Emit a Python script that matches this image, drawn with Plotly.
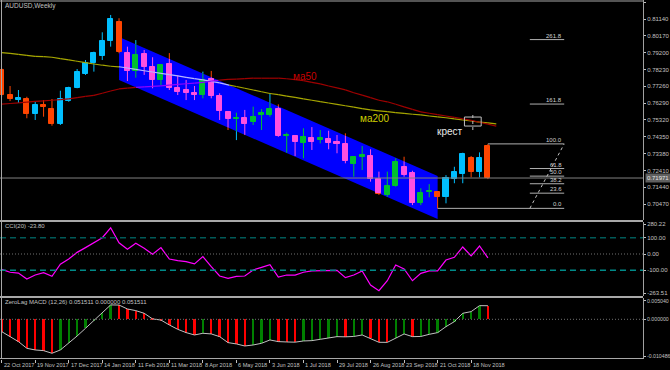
import plotly.graph_objects as go

# ---------------- data ----------------
date_labels = ["22 Oct 2017", "19 Nov 2017", "17 Dec 2017", "14 Jan 2018", "11 Feb 2018",
               "11 Mar 2018", "8 Apr 2018", "6 May 2018", "3 Jun 2018", "1 Jul 2018",
               "29 Jul 2018", "26 Aug 2018", "23 Sep 2018", "21 Oct 2018", "18 Nov 2018"]
date_label_index = [0, 4, 8, 12, 16, 20, 24, 28, 32, 36, 40, 44, 48, 52, 56]

open_ = [0.7820, 0.7676, 0.7647, 0.7653, 0.7567, 0.7618, 0.7595, 0.7507, 0.7643, 0.7718,
         0.7797, 0.7859, 0.7903, 0.7988, 0.8099, 0.7917, 0.7815, 0.7911, 0.7839, 0.7763,
         0.7853, 0.7715, 0.7705, 0.7689, 0.7676, 0.7768, 0.7670, 0.7576, 0.7538, 0.7542,
         0.7519, 0.7559, 0.7561, 0.7594, 0.7440, 0.7440, 0.7397, 0.7430, 0.7416, 0.7420,
         0.7403, 0.7393, 0.7276, 0.7317, 0.7324, 0.7191, 0.7099, 0.7153, 0.7262, 0.7224,
         0.7055, 0.7115, 0.7115, 0.7089, 0.7191, 0.7219, 0.7314, 0.7230, 0.7382]
high = [0.7832, 0.7728, 0.7705, 0.7666, 0.7637, 0.7647, 0.7653, 0.7701, 0.7724, 0.7826,
        0.7878, 0.7926, 0.8038, 0.8138, 0.8119, 0.7955, 0.7993, 0.7936, 0.7894, 0.7855,
        0.7918, 0.7791, 0.7763, 0.7728, 0.7811, 0.7815, 0.7686, 0.7580, 0.7574, 0.7590,
        0.7609, 0.7595, 0.7686, 0.7622, 0.7459, 0.7445, 0.7484, 0.7491, 0.7474, 0.7470,
        0.7445, 0.7455, 0.7320, 0.7382, 0.7363, 0.7234, 0.7234, 0.7311, 0.7320, 0.7239,
        0.7138, 0.7162, 0.7118, 0.7214, 0.7262, 0.7343, 0.7324, 0.7345, 0.7394]
low = [0.7667, 0.7641, 0.7630, 0.7542, 0.7532, 0.7551, 0.7499, 0.7503, 0.7637, 0.7715,
       0.7792, 0.7811, 0.7878, 0.7955, 0.7917, 0.7757, 0.7776, 0.7792, 0.7715, 0.7734,
       0.7705, 0.7676, 0.7647, 0.7647, 0.7657, 0.7657, 0.7532, 0.7474, 0.7416, 0.7445,
       0.7503, 0.7474, 0.7551, 0.7435, 0.7343, 0.7324, 0.7311, 0.7359, 0.7397, 0.7363,
       0.7340, 0.7282, 0.7205, 0.7243, 0.7176, 0.7099, 0.7089, 0.7147, 0.7205, 0.7041,
       0.7041, 0.7086, 0.7022, 0.7051, 0.7167, 0.7167, 0.7201, 0.7201, 0.7191]
close = [0.7676, 0.7651, 0.7657, 0.7567, 0.7617, 0.7609, 0.7507, 0.7651, 0.7716, 0.7811,
         0.7863, 0.7920, 0.7988, 0.8113, 0.7923, 0.7815, 0.7907, 0.7839, 0.7763, 0.7849,
         0.7715, 0.7695, 0.7686, 0.7676, 0.7763, 0.7672, 0.7584, 0.7538, 0.7542, 0.7509,
         0.7551, 0.7571, 0.7597, 0.7441, 0.7445, 0.7407, 0.7432, 0.7407, 0.7426, 0.7397,
         0.7395, 0.7295, 0.7317, 0.7328, 0.7191, 0.7103, 0.7151, 0.7291, 0.7214, 0.7051,
         0.7112, 0.7122, 0.7089, 0.7199, 0.7230, 0.7334, 0.7230, 0.7314, 0.71971]

ma50 = [0.7623, 0.7627, 0.7631, 0.7635, 0.7639, 0.7642, 0.7646, 0.7650, 0.7654, 0.7661,
        0.7668, 0.7674, 0.7686, 0.7699, 0.7711, 0.7716, 0.7720, 0.7723, 0.7726, 0.7729,
        0.7733, 0.7737, 0.7741, 0.7745, 0.7749, 0.7756, 0.7762, 0.7766, 0.7768, 0.7771,
        0.7773, 0.7773, 0.7773, 0.7773, 0.7770, 0.7765, 0.7759, 0.7749, 0.7740, 0.7728,
        0.7717, 0.7706, 0.7689, 0.7675, 0.7661, 0.7646, 0.7637, 0.7623, 0.7608, 0.7593,
        0.7579, 0.7571, 0.7563, 0.7555, 0.7547, 0.7539, 0.7530, 0.7519, 0.7508, 0.7497]
ma200 = [0.7921, 0.7916, 0.7910, 0.7905, 0.7899, 0.7897, 0.7894, 0.7886, 0.7879, 0.7871,
         0.7863, 0.7855, 0.7848, 0.7842, 0.7839, 0.7832, 0.7824, 0.7816, 0.7809, 0.7801,
         0.7794, 0.7786, 0.7778, 0.7771, 0.7763, 0.7755, 0.7746, 0.7735, 0.7725, 0.7715,
         0.7705, 0.7695, 0.7685, 0.7678, 0.7670, 0.7662, 0.7654, 0.7646, 0.7638, 0.7630,
         0.7622, 0.7614, 0.7606, 0.7598, 0.7590, 0.7584, 0.7580, 0.7575, 0.7570, 0.7565,
         0.7561, 0.7555, 0.7550, 0.7545, 0.7538, 0.7532, 0.7526, 0.7520, 0.7515, 0.7509]

cci = [-94, -112, -117, -153, -129, -115, -137, -63, -31, 10,
       39, 67, 100, 161, 69, 29, 66, 35, -2, 39,
       -31, -41, -47, -61, -16, -78, -135, -149, -137, -135,
       -98, -82, -65, -141, -129, -129, -112, -104, -102, -102,
       -100, -145, -129, -104, -190, -225, -164, -67, -92, -164,
       -119, -104, -104, -37, -20, 43, -12, 49, -23.8]

macd = [-0.00334, -0.00470, -0.00605, -0.00786, -0.00831, -0.00849, -0.00921, -0.00831, -0.00650, -0.00452,
        -0.00244, -0.00030, 0.00163, 0.00390, 0.00386, 0.00280, 0.00235, 0.00163, 0.00010, -0.00020,
        -0.00154, -0.00271, -0.00361, -0.00425, -0.00379, -0.00397, -0.00470, -0.00632, -0.00668, -0.00723,
        -0.00696, -0.00650, -0.00560, -0.00605, -0.00614, -0.00620, -0.00587, -0.00578, -0.00542, -0.00515,
        -0.00470, -0.00475, -0.00465, -0.00425, -0.00515, -0.00623, -0.00625, -0.00515, -0.00397, -0.00470,
        -0.00465, -0.00407, -0.00361, -0.00199, -0.00063, 0.00163, 0.00208, 0.00370, 0.00368]

channel_x = [14, 52]
channel_top = [0.8011, 0.7209]
channel_bottom = [0.7763, 0.6961]

fib_low = 0.7022
fib_high = 0.7394
fib_levels = [0.0, 23.6, 38.2, 50.0, 61.8, 100.0, 161.8, 261.8]
fib_labels = ["0.0", "23.6", "38.2", "50.0", "61.8", "100.0", "161.8", "261.8"]

cross_box_x = [55.2, 57.2]
cross_box_y = [0.7497, 0.7549]

current_price = 0.71971

price_ticks = [0.8211, 0.8114, 0.8017, 0.7920, 0.7823, 0.7726, 0.7629, 0.7532, 0.7435,
               0.7338, 0.7241, 0.7144, 0.7047]
price_tick_text = ["0.82110", "0.81140", "0.80170", "0.79200", "0.78230", "0.77260", "0.76290",
                   "0.75320", "0.74350", "0.73380", "0.72410", "0.71440", "0.70470"]
cci_tick_vals = [182, 100, 0, -100, -241]
cci_tick_text = ["280.22", "100.00", "0.00", "-100.00", "-263.51"]
macd_tick_vals = [0.00504, 0.0, -0.00995]
macd_tick_text = ["0.005040", "0.000000", "-0.010486"]

# ---------------- styles ----------------
BG = "#000000"
AX = "#c0c0c0"
FONT = "Liberation Sans"
BULL, BEAR = "#00bfff", "#ff4500"
BULL_IN, BEAR_IN = "#00c030", "#ff50e0"
MA50_C, MA50_IN = "#a00000", "#9000ff"
MA200_C, MA200_IN = "#a8a800", "#b8b8ff"

n = len(close)
idx = list(range(n))


def ch_top(x):
    return channel_top[0] + (channel_top[1] - channel_top[0]) * (x - channel_x[0]) / (channel_x[1] - channel_x[0])


def ch_bot(x):
    return channel_bottom[0] + (channel_bottom[1] - channel_bottom[0]) * (x - channel_x[0]) / (channel_x[1] - channel_x[0])


def inside(x, y):
    return channel_x[0] < x < channel_x[1] and ch_bot(x) < y < ch_top(x)


def split_vertical(x, lo, hi):
    cuts = [lo, hi]
    if channel_x[0] < x < channel_x[1]:
        for c in (ch_bot(x), ch_top(x)):
            if lo < c < hi:
                cuts.append(c)
    cuts.sort()
    out = []
    for a, b in zip(cuts[:-1], cuts[1:]):
        out.append((a, b, inside(x, (a + b) / 2)))
    return out


def clip_line(xs, ys):
    ix, iy, ox, oy = [], [], [], []
    for k in range(len(xs) - 1):
        x0, y0, x1, y1 = xs[k], ys[k], xs[k + 1], ys[k + 1]
        ts = [0.0, 1.0]
        for xe in channel_x:
            if (x0 - xe) * (x1 - xe) < 0:
                ts.append((xe - x0) / (x1 - x0))
        for f in (ch_top, ch_bot):
            d0, d1 = y0 - f(x0), y1 - f(x1)
            if d0 * d1 < 0:
                ts.append(d0 / (d0 - d1))
        ts.sort()
        for a, b in zip(ts[:-1], ts[1:]):
            xa, ya = x0 + (x1 - x0) * a, y0 + (y1 - y0) * a
            xb, yb = x0 + (x1 - x0) * b, y0 + (y1 - y0) * b
            m = (a + b) / 2
            if inside(x0 + (x1 - x0) * m, y0 + (y1 - y0) * m):
                ix += [xa, xb, None]; iy += [ya, yb, None]
            else:
                ox += [xa, xb, None]; oy += [ya, yb, None]
    return ix, iy, ox, oy


fig = go.Figure()

# candles
wicks = {BULL: ([], []), BEAR: ([], []), BULL_IN: ([], []), BEAR_IN: ([], [])}
bx, bbase, bh, bcol = [], [], [], []
MIN_H = 0.0003
for i in idx:
    bull = close[i] >= open_[i]
    c_out = BULL if bull else BEAR
    c_in = BULL_IN if bull else BEAR_IN
    for a, b, ins in split_vertical(i, low[i], high[i]):
        col = c_in if ins else c_out
        wicks[col][0].extend([i, i, None])
        wicks[col][1].extend([a, b, None])
    lo, hi = min(open_[i], close[i]), max(open_[i], close[i])
    if hi - lo < MIN_H:
        mid = (hi + lo) / 2
        lo, hi = mid - MIN_H / 2, mid + MIN_H / 2
    for a, b, ins in split_vertical(i, lo, hi):
        bx.append(i); bbase.append(a); bh.append(b - a)
        bcol.append(c_in if ins else c_out)

fig.add_trace(go.Bar(x=bx, y=bh, base=bbase, width=0.6,
                     marker=dict(color=bcol, line=dict(color=bcol, width=1)),
                     hoverinfo="skip", xaxis="x", yaxis="y"))
for col, (wx, wy) in wicks.items():
    fig.add_trace(go.Scatter(x=wx, y=wy, mode="lines", line=dict(color=col, width=1),
                             hoverinfo="skip", xaxis="x", yaxis="y"))

# moving averages
ma_x = list(range(len(ma50)))
for vals, c_out, c_in in ((ma200, MA200_C, MA200_IN), (ma50, MA50_C, MA50_IN)):
    ix, iy, ox, oy = clip_line(ma_x, vals)
    fig.add_trace(go.Scatter(x=ox, y=oy, mode="lines", line=dict(color=c_out, width=1.2),
                             hoverinfo="skip", xaxis="x", yaxis="y"))
    fig.add_trace(go.Scatter(x=ix, y=iy, mode="lines", line=dict(color=c_in, width=1.2),
                             hoverinfo="skip", xaxis="x", yaxis="y"))

# fibonacci
rng = fib_high - fib_low
FIB_X0, FIB_X1 = 63.0, 67.1
for lvl, lab in zip(fib_levels, fib_labels):
    yv = fib_low + rng * lvl / 100.0
    x0 = FIB_X0
    if lvl == 0.0:
        x0 = 52
    elif lvl == 100.0:
        x0 = 58
    fig.add_trace(go.Scatter(x=[x0, FIB_X1], y=[yv, yv], mode="lines",
                             line=dict(color="#b0b0b0", width=1), hoverinfo="skip",
                             xaxis="x", yaxis="y"))
    fig.add_annotation(x=FIB_X1, y=yv, xref="x", yref="y", text=lab, showarrow=False,
                       xanchor="right", yanchor="bottom", yshift=-1,
                       font=dict(family=FONT, size=6, color="#d0d0d0"))
fig.add_trace(go.Scatter(x=[FIB_X0, FIB_X1], y=[fib_low, fib_high], mode="lines",
                         line=dict(color="#c0c0c0", width=1, dash="dot"), hoverinfo="skip",
                         xaxis="x", yaxis="y"))

# cross box
fig.add_trace(go.Scatter(
    x=[cross_box_x[0], cross_box_x[1], cross_box_x[1], cross_box_x[0], cross_box_x[0]],
    y=[cross_box_y[0], cross_box_y[0], cross_box_y[1], cross_box_y[1], cross_box_y[0]],
    mode="lines", line=dict(color="#c0c0c0", width=1), hoverinfo="skip", xaxis="x", yaxis="y"))
cx = (cross_box_x[0] + cross_box_x[1]) / 2
fig.add_trace(go.Scatter(x=[cx, cx], y=[cross_box_y[0] - 0.0023, cross_box_y[1] + 0.0023],
                         mode="lines", line=dict(color="#c0c0c0", width=1, dash="dot"),
                         hoverinfo="skip", xaxis="x", yaxis="y"))

# CCI
fig.add_trace(go.Scatter(x=idx, y=cci, mode="lines", line=dict(color="#ff00ff", width=1.2),
                         hoverinfo="skip", xaxis="x2", yaxis="y2"))

# MACD
mcol = ["#ff0000" if (i == 0 or macd[i] < macd[i - 1]) else "#008000" for i in idx]
fig.add_trace(go.Bar(x=idx, y=macd, width=0.28, marker=dict(color=mcol, line=dict(width=0)),
                     hoverinfo="skip", xaxis="x3", yaxis="y3"))
fig.add_trace(go.Scatter(x=idx, y=macd, mode="lines", line=dict(color="#c0c0c0", width=1),
                         hoverinfo="skip", xaxis="x3", yaxis="y3"))

# ---------------- layout ----------------
W, H = 670, 370
ML, MR, MT, MB = 0, 27, 0, 11
PH = H - MT - MB


def py(p):
    return (PH - p) / PH


XR = [-0.2, 76.5]
tickfont = dict(family=FONT, size=6, color=AX)
xcommon = dict(range=XR, showgrid=False, zeroline=False, showticklabels=False, fixedrange=True)
ycommon = dict(side="right", showgrid=False, zeroline=False, ticks="outside", ticklen=2,
               tickcolor=AX, showline=True, linecolor="#a0a0a0",
               linewidth=1, fixedrange=True)

fig.update_layout(
    width=W, height=H, margin=dict(l=ML, r=MR, t=MT, b=MB, autoexpand=False),
    paper_bgcolor=BG, plot_bgcolor=BG, showlegend=False, barmode="overlay", bargap=0,
    xaxis=dict(domain=[0, 1], anchor="y", **xcommon),
    xaxis2=dict(domain=[0, 1], anchor="y2", matches="x", **xcommon),
    xaxis3=dict(domain=[0, 1], anchor="y3", matches="x", ticks="outside", ticklen=3,
                tickcolor=AX, tickvals=date_label_index, **xcommon),
    yaxis=dict(domain=[py(220), 1.0], anchor="x", range=[0.69549, 0.82243],
               tickvals=price_ticks, ticktext=price_tick_text, tickfont=tickfont, **ycommon),
    yaxis2=dict(domain=[py(296), py(222)], anchor="x2",
                range=[(254 - 296) / 0.163, (254 - 222) / 0.163],
                tickvals=cci_tick_vals, ticktext=cci_tick_text, tickfont=tickfont, **ycommon),
    yaxis3=dict(domain=[0, py(298)], anchor="x3",
                range=[-(PH - 319.3) / 3690.0, (319.3 - 298) / 3690.0],
                tickvals=macd_tick_vals, ticktext=macd_tick_text,
                tickfont=dict(family=FONT, size=5.2, color=AX), **ycommon),
)

# channel (drawn below traces), level lines and current price line
cpath = "M {x0},{t0} L {x1},{t1} L {x1},{b1} L {x0},{b0} Z".format(
    x0=channel_x[0], x1=channel_x[1], t0=channel_top[0], t1=channel_top[1],
    b0=channel_bottom[0], b1=channel_bottom[1])
shapes = [
    dict(type="path", xref="x", yref="y", path=cpath, fillcolor="#0000ff",
         line=dict(width=0), layer="below"),
    dict(type="line", xref="paper", x0=0, x1=1, yref="y2", y0=100, y1=100,
         line=dict(color="#005a58", width=1.6, dash="6px,4px")),
    dict(type="line", xref="paper", x0=0, x1=1, yref="y2", y0=-100, y1=-100,
         line=dict(color="#008a88", width=1.6, dash="6px,4px")),
    dict(type="line", xref="paper", x0=0, x1=1, yref="y2", y0=0, y1=0,
         line=dict(color="#707070", width=1, dash="1px,2px")),
    dict(type="line", xref="paper", x0=0, x1=1, yref="y3", y0=0, y1=0,
         line=dict(color="#707070", width=1, dash="1px,2px")),
    dict(type="line", xref="paper", x0=0, x1=1, yref="y", y0=current_price, y1=current_price,
         line=dict(color="#808080", width=1)),
]
# frame / panel separators
for p in (1, 221, 297, PH - 0.5):
    shapes.append(dict(type="line", xref="paper", x0=0, x1=1, yref="paper", y0=py(p), y1=py(p),
                       line=dict(color="#a8a8a8", width=2 if p in (221, 297) else 1)))
shapes.append(dict(type="line", xref="paper", x0=1.5 / (W - ML - MR), x1=1.5 / (W - ML - MR),
                   yref="paper", y0=0, y1=1, line=dict(color="#a8a8a8", width=1)))
fig.update_layout(shapes=shapes)

# text
fig.add_annotation(xref="paper", yref="paper", x=0.005, y=py(6), text="AUDUSD,Weekly",
                   showarrow=False, xanchor="left", yanchor="middle",
                   font=dict(family=FONT, size=6.5, color=AX))
fig.add_annotation(xref="paper", yref="paper", x=0.005, y=py(226), text="CCI(20) -23.80",
                   showarrow=False, xanchor="left", yanchor="middle",
                   font=dict(family=FONT, size=6, color=AX))
fig.add_annotation(xref="paper", yref="paper", x=0.005, y=py(302),
                   text="ZeroLag MACD (12,26) 0.051511 0.000000 0.051511",
                   showarrow=False, xanchor="left", yanchor="middle",
                   font=dict(family=FONT, size=6, color=AX))
fig.add_annotation(xref="x", yref="y", x=36.2, y=0.7783, text="ма50", showarrow=False,
                   font=dict(family=FONT, size=10, color="#c80000"))
fig.add_annotation(xref="x", yref="y", x=44.5, y=0.7541, text="ма200", showarrow=False,
                   font=dict(family=FONT, size=10, color="#d0d000"))
fig.add_annotation(xref="x", yref="y", x=53.4, y=0.7466, text="крест", showarrow=False,
                   font=dict(family=FONT, size=10, color="#e8e8e8"))
fig.add_annotation(xref="paper", yref="y", x=1, y=current_price, text="0.71971",
                   showarrow=False, xanchor="left", xshift=2, bgcolor="#606060",
                   borderpad=1, font=dict(family=FONT, size=6, color="#e8e8e8"))
for xi, lab in zip(date_label_index, date_labels):
    fig.add_annotation(xref="x", yref="paper", x=xi, y=0, text=lab, showarrow=False,
                       xanchor="left", yanchor="top", xshift=0, yshift=-1,
                       font=dict(family=FONT, size=5.6, color=AX))

fig.write_html("out.html", config={"displayModeBar": False},
               post_script="document.body.style.margin='0px';document.body.style.padding='0px';")
